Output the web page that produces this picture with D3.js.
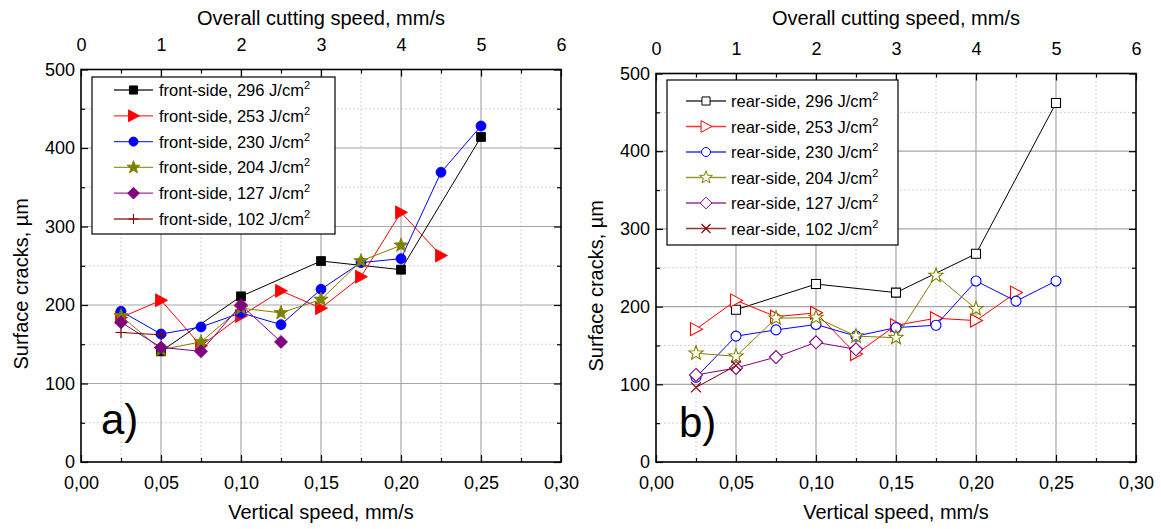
<!DOCTYPE html>
<html><head><meta charset="utf-8">
<script src="https://cdn.jsdelivr.net/npm/d3@7"></script>
<style>
html,body{margin:0;padding:0;background:#fff;}
text{font-family:"Liberation Sans",Arial,sans-serif;fill:#000;}
</style></head>
<body>
<svg id="chart" width="1161" height="529"></svg>
<script>
// ---------- data ----------
const xTicks = [0, 0.05, 0.10, 0.15, 0.20, 0.25, 0.30];
const yTicks = [0, 100, 200, 300, 400, 500];
const topTicks = [0, 1, 2, 3, 4, 5, 6];
const energies = ["296", "253", "230", "204", "127", "102"];
const seriesColors = ["#000000", "#ff0000", "#0000ff", "#808000", "#800080", "#800000"];

const front296_x = [0.05, 0.10, 0.15, 0.20, 0.25];
const front296_y = [141, 211, 256, 245, 414];
const front253_x = [0.025, 0.05, 0.075, 0.10, 0.125, 0.15, 0.175, 0.20, 0.225];
const front253_y = [184, 206, 148, 186, 218, 196, 236, 318, 263];
const front230_x = [0.025, 0.05, 0.075, 0.10, 0.125, 0.15, 0.175, 0.20, 0.225, 0.25];
const front230_y = [192, 163, 172, 190, 175, 220, 254, 259, 369, 428];
const front204_x = [0.025, 0.05, 0.075, 0.10, 0.125, 0.15, 0.175, 0.20];
const front204_y = [186, 143, 153, 196, 190, 207, 256, 276];
const front127_x = [0.025, 0.05, 0.075, 0.10, 0.125];
const front127_y = [178, 146, 141, 200, 153];
const front102_x = [0.025, 0.05];
const front102_y = [165, 162];

const rear296_x = [0.05, 0.10, 0.15, 0.20, 0.25];
const rear296_y = [196, 229, 218, 268, 462];
const rear253_x = [0.025, 0.05, 0.075, 0.10, 0.125, 0.15, 0.175, 0.20, 0.225];
const rear253_y = [171, 208, 187, 192, 139, 176, 185, 182, 218];
const rear230_x = [0.025, 0.05, 0.075, 0.10, 0.125, 0.15, 0.175, 0.20, 0.225, 0.25];
const rear230_y = [109, 162, 170, 177, 162, 173, 176, 233, 207, 233];
const rear204_x = [0.025, 0.05, 0.075, 0.10, 0.125, 0.15, 0.175, 0.20];
const rear204_y = [140, 136, 185, 186, 162, 160, 240, 197];
const rear127_x = [0.025, 0.05, 0.075, 0.10, 0.125];
const rear127_y = [112, 121, 135, 154, 145];
const rear102_x = [0.025, 0.05];
const rear102_y = [96, 124];

// ---------- marker shapes ----------
function starPath(R, r) {
  let p = "";
  for (let i = 0; i < 10; i++) {
    const a = -Math.PI / 2 + i * Math.PI / 5;
    const rr = i % 2 === 0 ? R : r;
    p += (i === 0 ? "M" : "L") + (rr * Math.cos(a)).toFixed(2) + "," + (rr * Math.sin(a)).toFixed(2);
  }
  return p + "Z";
}
const shapes = {
  square: "M-4.5,-4.5H4.5V4.5H-4.5Z",
  tri: "M-5.5,-6.5L6.5,0L-5.5,6.5Z",
  circle: "M5,0A5,5 0 1,1 -5,0A5,5 0 1,1 5,0Z",
  star: starPath(7.5, 3.1),
  diamond: "M0,-6.5L6.5,0L0,6.5L-6.5,0Z",
  plus: "M-5.5,0H5.5M0,-5.5V5.5",
  cross: "M-5,-5L5,5M-5,5L5,-5"
};

const panels = [
  {
    side: "front", left: 81, right: 561, top: 69.5, bottom: 462, filled: true,
    label: "a)", labelX: 101, labelY: 434,
    legend: {x0: 92, y0: 77, x1: 335, y1: 234, row0: 90, dy: 25.8, lx0: 114, lx1: 153, tx: 159},
    series: [
      {x: front296_x, y: front296_y, shape: "square"},
      {x: front253_x, y: front253_y, shape: "tri"},
      {x: front230_x, y: front230_y, shape: "circle"},
      {x: front204_x, y: front204_y, shape: "star"},
      {x: front127_x, y: front127_y, shape: "diamond"},
      {x: front102_x, y: front102_y, shape: "plus"}
    ]
  },
  {
    side: "rear", left: 656, right: 1136, top: 73.5, bottom: 462, filled: false,
    label: "b)", labelX: 679, labelY: 437,
    legend: {x0: 667, y0: 80, x1: 898, y1: 245, row0: 101, dy: 25.5, lx0: 686, lx1: 726, tx: 731},
    series: [
      {x: rear296_x, y: rear296_y, shape: "square"},
      {x: rear253_x, y: rear253_y, shape: "tri"},
      {x: rear230_x, y: rear230_y, shape: "circle"},
      {x: rear204_x, y: rear204_y, shape: "star"},
      {x: rear127_x, y: rear127_y, shape: "diamond"},
      {x: rear102_x, y: rear102_y, shape: "cross"}
    ]
  }
];

const svg = d3.select("#chart");
const fmtX = d => d.toFixed(2).replace(".", ",");

panels.forEach(P => {
  const x = d3.scaleLinear().domain([0, 0.30]).range([P.left, P.right]);
  const xTop = d3.scaleLinear().domain([0, 6]).range([P.left, P.right]);
  const y = d3.scaleLinear().domain([0, 500]).range([P.bottom, P.top]);
  const g = svg.append("g");

  // grid
  const xMinor = d3.range(0, 13).map(i => i * 0.025).filter(v => Math.abs(v * 40 - Math.round(v * 20) * 2) > 0.5);
  const yMinor = d3.range(50, 500, 100);
  g.selectAll(null).data(xMinor).join("line")
    .attr("x1", d => x(d)).attr("x2", d => x(d)).attr("y1", P.top).attr("y2", P.bottom)
    .attr("stroke", "#c4c4c4").attr("stroke-width", 1).attr("stroke-dasharray", "1.5,2.5");
  g.selectAll(null).data(yMinor).join("line")
    .attr("y1", d => y(d)).attr("y2", d => y(d)).attr("x1", P.left).attr("x2", P.right)
    .attr("stroke", "#c4c4c4").attr("stroke-width", 1).attr("stroke-dasharray", "1.5,2.5");
  g.selectAll(null).data(xTicks.slice(1, -1)).join("line")
    .attr("x1", d => x(d)).attr("x2", d => x(d)).attr("y1", P.top).attr("y2", P.bottom)
    .attr("stroke", "#a6a6a6").attr("stroke-width", 1.2);
  g.selectAll(null).data(yTicks.slice(1, -1)).join("line")
    .attr("y1", d => y(d)).attr("y2", d => y(d)).attr("x1", P.left).attr("x2", P.right)
    .attr("stroke", "#a6a6a6").attr("stroke-width", 1.2);

  // axes
  const styleAxis = (sel, fs) => {
    sel.select(".domain").remove();
    sel.selectAll("line").attr("stroke", "#000").attr("stroke-width", 1.2);
    sel.selectAll("text").attr("font-size", fs).attr("font-family", "Liberation Sans, Arial, sans-serif");
  };
  g.append("g").attr("transform", `translate(0,${P.bottom})`)
    .call(d3.axisBottom(x).tickValues(xTicks).tickFormat(fmtX).tickSizeInner(-7).tickSizeOuter(0).tickPadding(14))
    .call(s => styleAxis(s, 18));
  g.append("g").attr("transform", `translate(0,${P.bottom})`)
    .call(d3.axisBottom(x).tickValues(xMinor).tickFormat("").tickSizeInner(-4).tickSizeOuter(0))
    .call(s => styleAxis(s, 18));
  g.append("g").attr("transform", `translate(0,${P.top})`)
    .call(d3.axisTop(xTop).tickValues(topTicks).tickFormat(d3.format("d")).tickSizeInner(-7).tickSizeOuter(0).tickPadding(19))
    .call(s => styleAxis(s, 18));
  g.append("g").attr("transform", `translate(0,${P.top})`)
    .call(d3.axisTop(xTop).tickValues(d3.range(0.5, 6, 1)).tickFormat("").tickSizeInner(-4).tickSizeOuter(0))
    .call(s => styleAxis(s, 18));
  g.append("g").attr("transform", `translate(${P.left},0)`)
    .call(d3.axisLeft(y).tickValues(yTicks).tickFormat(d3.format("d")).tickSizeInner(-7).tickSizeOuter(0).tickPadding(6))
    .call(s => styleAxis(s, 18));
  g.append("g").attr("transform", `translate(${P.left},0)`)
    .call(d3.axisLeft(y).tickValues(yMinor).tickFormat("").tickSizeInner(-4).tickSizeOuter(0))
    .call(s => styleAxis(s, 18));
  g.append("g").attr("transform", `translate(${P.right},0)`)
    .call(d3.axisRight(y).tickValues(yTicks).tickFormat("").tickSizeInner(-7).tickSizeOuter(0))
    .call(s => styleAxis(s, 18));
  g.append("g").attr("transform", `translate(${P.right},0)`)
    .call(d3.axisRight(y).tickValues(yMinor).tickFormat("").tickSizeInner(-4).tickSizeOuter(0))
    .call(s => styleAxis(s, 18));

  // frame
  g.append("rect").attr("x", P.left).attr("y", P.top)
    .attr("width", P.right - P.left).attr("height", P.bottom - P.top)
    .attr("fill", "none").attr("stroke", "#000").attr("stroke-width", 1.6);

  // titles
  const cx = (P.left + P.right) / 2;
  g.append("text").attr("x", cx).attr("y", 25).attr("text-anchor", "middle")
    .attr("font-size", 20).text("Overall cutting speed, mm/s");
  g.append("text").attr("x", cx).attr("y", 519).attr("text-anchor", "middle")
    .attr("font-size", 20).text("Vertical speed, mm/s");
  g.append("text").attr("transform", `translate(${P.left - 53},${(P.top + P.bottom) / 2 + 18}) rotate(-90)`)
    .attr("text-anchor", "middle").attr("font-size", 20).text("Surface cracks, \u00b5m");
  g.append("text").attr("x", P.labelX).attr("y", P.labelY).attr("font-size", 42).text(P.label);

  // series
  P.series.forEach((s, i) => {
    const col = seriesColors[i];
    const pts = s.x.map((v, k) => [v, s.y[k]]);
    g.append("path").datum(pts)
      .attr("d", d3.line().x(d => x(d[0])).y(d => y(d[1])))
      .attr("fill", "none").attr("stroke", col).attr("stroke-width", 1);
    const open = !P.filled;
    const line = s.shape === "plus" || s.shape === "cross";
    g.selectAll(null).data(pts).join("path")
      .attr("transform", d => `translate(${x(d[0])},${y(d[1])})`)
      .attr("d", shapes[s.shape])
      .attr("fill", line ? "none" : (open ? "#fff" : col))
      .attr("stroke", col).attr("stroke-width", line ? 1.2 : (open ? 1.1 : 0.8));
  });

  // legend
  const L = P.legend;
  g.append("rect").attr("x", L.x0).attr("y", L.y0).attr("width", L.x1 - L.x0).attr("height", L.y1 - L.y0)
    .attr("fill", "#fff").attr("stroke", "#000").attr("stroke-width", 1.2);
  P.series.forEach((s, i) => {
    const col = seriesColors[i];
    const yy = L.row0 + i * L.dy;
    g.append("line").attr("x1", L.lx0).attr("x2", L.lx1).attr("y1", yy).attr("y2", yy)
      .attr("stroke", col).attr("stroke-width", 1.3).attr("stroke-opacity", 0.8);
    const line = s.shape === "plus" || s.shape === "cross";
    g.append("path").attr("transform", `translate(${(L.lx0 + L.lx1) / 2},${yy}) scale(0.9)`)
      .attr("d", shapes[s.shape])
      .attr("fill", line ? "none" : (P.filled ? col : "#fff"))
      .attr("stroke", col).attr("stroke-width", line ? 1.2 : 1.1);
    const t = g.append("text").attr("x", L.tx).attr("y", yy + 6).attr("font-size", 16.5);
    t.append("tspan").text(`${P.side}-side, ${energies[i]} J/cm`);
    t.append("tspan").attr("font-size", 11).attr("dy", -7).text("2");
  });
});
</script>
</body></html>
